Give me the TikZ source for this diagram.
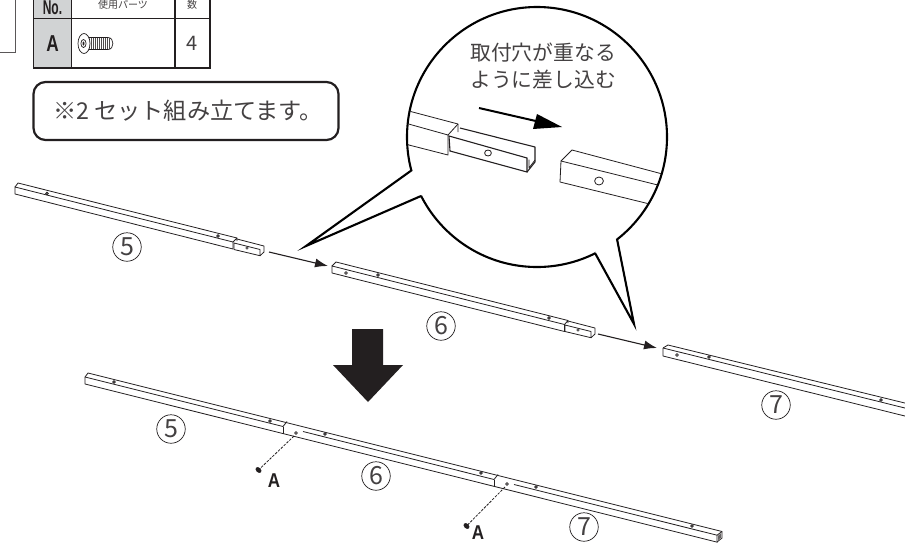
\documentclass[tikz,border=0pt]{standalone}
\usepackage{fontspec}
\setmainfont{Liberation Sans}
\newfontfamily\cjk{Noto Sans CJK JP}
\usetikzlibrary{arrows.meta}
\definecolor{ink}{HTML}{231F20}
\definecolor{cellgray}{HTML}{D1D3D4}
\tikzset{
  thinline/.style={draw=ink,line width=0.8pt,line join=round},
  holemark/.style={draw=ink,line width=0.6pt,fill=white},
  darkhole/.style={draw=ink,line width=0.7pt,fill=gray},
  tablerule/.style={draw=ink,line width=1.1pt},
  numcircle/.style={circle,draw=ink,line width=0.7pt,minimum size=28.5pt,inner sep=0pt,font=\cjk\fontsize{25}{25}\selectfont,text=ink!85},
  bubble/.style={draw=black,line width=2.1pt,line join=miter},
  jptext/.style={font=\cjk\fontsize{20.8}{24}\selectfont,text=ink!85,align=center,inner sep=0pt},
  flowarrow/.style={draw=ink,line width=1.1pt,-{Latex[length=13pt,width=9pt]}},
  screwlabel/.style={font=\bfseries\fontsize{20}{20}\selectfont,text=ink,inner sep=0pt,xscale=.85,transform shape},
  screwlink/.style={draw=ink,line width=0.8pt,dash pattern=on 2.6pt off 1.3pt},
}
\newcommand{\chanpiece}{%
  \draw[thinline] (234,243) -- (260,249.5) -- (260,255.7) -- (234,249.5) -- cycle;
  \draw[thinline] (237,239) -- (264,246) -- (264,252) -- (260,255.7);
  \draw[holemark] (247,248) circle (1.2pt);
}
\begin{document}
\begin{tikzpicture}[x=1pt,y=-1pt]
\useasboundingbox (0,0) rectangle (905,542);
\fill[white] (0,0) rectangle (905,542);
\clip (0,0) rectangle (905,542);

% fragment of a box at upper left
\draw[draw=ink!75,line width=0.7pt] (15,-2) -- (15,52.5) -- (-2,52.5);

% parts table
\fill[cellgray] (33.5,-2) rectangle (71.5,68);
\draw[tablerule] (33.5,-2) -- (33.5,68) -- (210,68) -- (210,-2);
\draw[tablerule] (33.5,18.5) -- (210,18.5);
\draw[tablerule] (71.5,-2) -- (71.5,68.5);
\draw[tablerule] (175,-2) -- (175,68.5);
\node[font=\bfseries\fontsize{20}{20}\selectfont,inner sep=0pt,xscale=.6,transform shape,text=ink] (hno) at (52.5,8) {No.};
\node[font=\cjk\fontsize{10}{10}\selectfont,inner sep=0pt,text=ink!85] (hparts) at (123,5) {使用パーツ};
\node[font=\cjk\fontsize{10}{10}\selectfont,inner sep=0pt,text=ink!85] (hcount) at (192,5) {数};
\node[font=\bfseries\fontsize{23}{23}\selectfont,inner sep=0pt,xscale=.75,transform shape,text=ink] (cA) at (52.5,43.5) {A};
\node[font=\cjk\fontsize{20}{20}\selectfont,inner sep=0pt,text=ink!85] (cfour) at (192,43) {4};
% screw icon
\draw[ink,line width=0.7pt,fill=white] (89,37.5) -- (108,37.5) to[out=0,in=0,looseness=1.4] (108,49.5) -- (89,49.5) -- cycle;
\foreach \i in {91,93,...,109}{\draw[ink!80,line width=0.5pt] (\i,38) -- (\i,49);}
\draw[ink,line width=0.7pt,fill=white] (84,43.5) ellipse (6pt and 10pt);
\draw[ink,line width=0.7pt] (83.5,43.5) ellipse (2.6pt and 4pt);
\fill[ink] (83.5,43.5) ellipse (1pt and 2pt);

% note box
\node[draw=ink,line width=2.2pt,rounded corners=12pt,minimum width=305pt,minimum height=58pt,inner sep=0pt] (note) at (186,111) {};
\node[font=\cjk\fontsize{23.2}{25}\selectfont,text=ink!85,inner sep=0pt] (notetext) at (188,110.5) {※2 セット組み立てます。};

% speech bubble
\fill[white] (537,137) circle (130pt);
\begin{scope}
\clip (537,137) circle (129pt);
\draw[thinline] (405,110) -- (458,124) -- (458,132);
\draw[thinline] (405,123) -- (448,135) -- (448,155) -- (405,144);
\draw[thinline] (448,135) -- (458,124);
\draw[ink,line width=1.1pt] (449,136) -- (527,158) -- (527,172) -- (450,151) -- cycle;
\draw[ink,line width=1.1pt,line join=round] (460,128) -- (535,147) -- (535,162) -- (527,172);
\draw[thinline] (529,159.5) -- (529,168) -- (535,160);
\draw[thinline] (488,153) ellipse (3.4pt and 3pt);
\draw[thinline] (561,161) -- (572,150) -- (670,176);
\draw[thinline] (561,161) -- (670,188);
\draw[thinline] (561,161) -- (560,182) -- (670,209);
\draw[thinline] (599,181) ellipse (4.4pt and 4pt);
\end{scope}
\draw[bubble] (537,137) circle (130pt);
\coordinate (t1a) at (412,170);
\coordinate (t1tip) at (306,246);
\coordinate (t1b) at (421,196);
\coordinate (t2a) at (595,253);
\coordinate (t2tip) at (634,324);
\coordinate (t2b) at (617,239);
\fill[white] (t1a) -- (t1tip) -- (t1b) -- (430,182) -- cycle;
\fill[white] (t2a) -- (t2tip) -- (t2b) -- (603,238) -- cycle;
\draw[bubble] (t1a) -- (t1tip) -- (t1b);
\draw[bubble] (t2a) -- (t2tip) -- (t2b);
\node[jptext] (calloutA) at (543,53) {取付穴が重なる};
\node[jptext] (calloutB) at (543,80) {ように差し込む};
\coordinate (insA) at (479,108);
\coordinate (insB) at (562,127);
\draw[black,line width=2pt] (insA) -- (538,121.5);
\fill[black] (537,114) -- (insB) -- (533,129) -- cycle;

% upper bar 5
\draw[thinline] (15,187) -- (18,183) -- (237,238);
\draw[thinline] (15,187) -- (233,242) -- (233,249) -- (15,194) -- cycle;
\draw[thinline] (233,242) -- (237,238) -- (237,241);
\chanpiece
\draw[darkhole] (47,193.5) circle (1.3pt);
\draw[darkhole] (218,236) circle (1.3pt);
\node[numcircle] (n5a) at (127,247) {5};

% upper bar 6
\draw[thinline] (332,266) -- (336,262) -- (568,320.5);
\draw[thinline] (332,266) -- (564.5,324.5) -- (564.5,331.5) -- (332,273) -- cycle;
\draw[thinline] (564.5,324.5) -- (568,320.5) -- (568,323);
\begin{scope}[shift={(331,82)}]\chanpiece\end{scope}
\draw[holemark] (346,273) circle (1.4pt);
\draw[darkhole] (378,275) circle (1.3pt);
\draw[darkhole] (549,318) circle (1.3pt);
\node[numcircle] (n6a) at (441,326) {6};

% upper bar 7
\draw[thinline] (663,348) -- (668,345) -- (915,405.5);
\draw[thinline] (663,348) -- (915,410.5);
\draw[thinline] (663,348) -- (663,356) -- (915,418.5);
\draw[holemark] (677,355) circle (1.4pt);
\draw[darkhole] (709,357) circle (1.3pt);
\draw[darkhole] (881,400) circle (1.3pt);
\node[numcircle] (n7a) at (776,405) {7};

% flow arrows
\coordinate (f1a) at (269,252); \coordinate (f1b) at (328,266);
\coordinate (f2a) at (598,334); \coordinate (f2b) at (657,348);
\draw[flowarrow] (f1a) -- (f1b);
\draw[flowarrow] (f2a) -- (f2b);

% big down arrow
\fill[ink] (352,329) -- (383,329) -- (383,365) -- (403,365) -- (368,402) -- (333,365) -- (352,365) -- cycle;

% lower assembled bar
\draw[thinline] (85,377) -- (88,373) -- (722,531.5) -- (722,538) -- (717,542);
\draw[thinline] (85,377) -- (85,384) -- (716.5,542);
\draw[thinline] (85,377) -- (283,426.5);
\draw[thinline] (303,431.5) -- (494,479.5);
\draw[thinline] (514,484.5) -- (717,535.2) -- (717,543);
\draw[thinline] (717,535.2) -- (722,531.5);
\fill[ink!70] (718.2,535.6) -- (721,533.2) -- (721,537.6) -- (718.2,540) -- cycle;
\draw[thinline] (283,426.5) -- (283,433.7);
\draw[thinline] (283,426.5) -- (287,421.5);
\draw[thinline] (494,479.5) -- (494,486.7);
\draw[thinline] (494,479.5) -- (498,474.5);
\draw[darkhole] (114,382) circle (1.3pt);
\draw[darkhole] (270,421) circle (1.3pt);
\draw[holemark] (296,433) circle (1.4pt);
\draw[darkhole] (325,434) circle (1.3pt);
\draw[darkhole] (481,473) circle (1.3pt);
\draw[holemark] (507,484) circle (1.4pt);
\draw[darkhole] (536,487) circle (1.3pt);
\draw[darkhole] (692,526) circle (1.3pt);
\node[numcircle] (n5b) at (171,429) {5};
\node[numcircle] (n6b) at (376,476) {6};
\node[numcircle] (n7b) at (584,527) {7};

% screws A
\coordinate (h1) at (294,436); \coordinate (s1) at (258.5,470);
\coordinate (h2) at (505,487); \coordinate (s2) at (466.5,526);
\draw[screwlink] (h1) -- (s1);
\draw[screwlink] (h2) -- (s2);
\fill[ink,rotate around={-45:(s1)}] (s1) ellipse (3.4pt and 2.4pt);
\fill[ink,rotate around={-45:(s2)}] (s2) ellipse (3.4pt and 2.4pt);
\node[screwlabel] (a1) at (274,480.5) {A};
\node[screwlabel] (a2) at (478,532.5) {A};
\end{tikzpicture}
\end{document}
